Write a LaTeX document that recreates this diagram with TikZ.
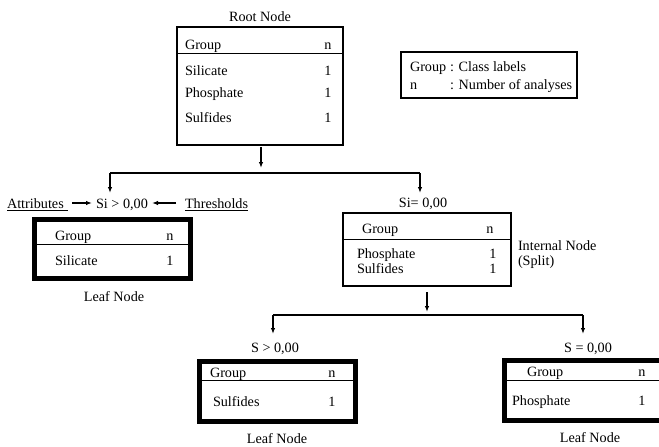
\documentclass[tikz,border=0pt]{standalone}
\usepackage{fontspec}
\setmainfont{Liberation Serif}
\usetikzlibrary{arrows.meta}
\begin{document}
\begin{tikzpicture}[x=1pt,y=-1pt,
  every node/.style={font=\fontsize{14.2}{17}\selectfont, inner sep=0pt, outer sep=0pt},
  tl/.style={anchor=base west},
  tc/.style={anchor=base},
  thinbox/.style={draw, line width=1.4pt},
  thickbox/.style={draw, line width=5pt},
  sepline/.style={line width=0.9pt},
  arr/.style={line width=1.3pt, -{Latex[length=6pt,width=4.5pt]}},
  branch/.style={line width=1.3pt},
  uline/.style={line width=0.9pt}]
\useasboundingbox (0,0) rectangle (659,447);
\clip (0,0) rectangle (659,447);
\fill[white] (0,0) rectangle (659,447);

% Root node
\node[tc] (roottitle) at (260,21) {Root Node};
\node[thinbox, minimum width=166pt, minimum height=118pt] (root) at (260,86) {};
\draw[sepline] (root.west |- 0,53) -- (root.east |- 0,53);
\node[tl] (rg) at (185,49) {Group};
\node[tc] (rn) at (328,49) {n};
\node[tl] (r1) at (185,75) {Silicate};
\node[tc] (r1n) at (328,75) {1};
\node[tl] (r2) at (185,97) {Phosphate};
\node[tc] (r2n) at (328,97) {1};
\node[tl] (r3) at (185,122) {Sulfides};
\node[tc] (r3n) at (328,122) {1};

% Legend
\node[thinbox, line width=1.2pt, minimum width=176pt, minimum height=46pt] (legend) at (489,75) {};
\node[tl] (lg) at (410,71) {Group};
\node[tl] (lgt) at (450,71) {: Class labels};
\node[tl] (ln) at (410,89) {n};
\node[tl] (lnt) at (450,89) {: Number of analyses};

% First split
\coordinate (a1) at (261,168);
\coordinate (b1l) at (110,173);
\coordinate (b1r) at (420,173);
\coordinate (b1le) at (110,193);
\coordinate (b1re) at (420,193);
\draw[arr] ([yshift=-2pt]root.south -| a1) -- (a1);
\draw[branch] (b1l) -- (b1r);
\draw[arr] (b1l) -- (b1le);
\draw[arr] (b1r) -- (b1re);

% Left condition
\node[tc] (si1) at (122,208) {Si > 0,00};
\node[tl] (attr) at (7,208) {Attributes};
\node[tl] (thr) at (185,208) {Thresholds};
\draw[uline] (attr.base west) ++(0,2.5) -- ++(61,0);
\draw[uline] (thr.base west) ++(0,2.5) -- ++(63,0);
\coordinate (aa1) at (72,203);
\coordinate (aa2) at (92,203);
\coordinate (ta1) at (176,203);
\coordinate (ta2) at (152,203);
\draw[arr] (aa1) -- (aa2);
\draw[arr] (ta1) -- (ta2);

% Leaf 1
\node[thickbox, minimum width=156pt, minimum height=59pt] (leaf1) at (112.5,249) {};
\draw[sepline] (leaf1.west |- 0,244) -- (leaf1.east |- 0,244);
\node[tl] (l1g) at (55,240) {Group};
\node[tc] (l1n) at (170,240) {n};
\node[tl] (l1a) at (55,265) {Silicate};
\node[tc] (l1an) at (170,265) {1};
\node[tc] (l1lab) at (114,301) {Leaf Node};

% Internal node
\node[tc] (si2) at (423,207) {Si= 0,00};
\node[thinbox, minimum width=168pt, minimum height=73pt] (inode) at (427,249.5) {};
\draw[sepline] (inode.west |- 0,239) -- (inode.east |- 0,239);
\node[tl] (ig) at (362,233) {Group};
\node[tc] (in) at (490,233) {n};
\node[tl] (i1) at (357,258) {Phosphate};
\node[tc] (i1n) at (493,258) {1};
\node[tl] (i2) at (357,273) {Sulfides};
\node[tc] (i2n) at (493,273) {1};
\node[tl] (ilab1) at (518,250) {Internal Node};
\node[tl] (ilab2) at (518,265) {(Split)};

% Second split
\coordinate (a2) at (427,312);
\coordinate (b2l) at (273,315);
\coordinate (b2r) at (583,315);
\coordinate (b2le) at (273,334);
\coordinate (b2re) at (583,334);
\draw[arr] ([yshift=-6pt]inode.south -| a2) -- (a2);
\draw[branch] (b2l) -- (b2r);
\draw[arr] (b2l) -- (b2le);
\draw[arr] (b2r) -- (b2re);

\node[tc] (s1) at (275,352) {S > 0,00};
\node[tc] (s2) at (588,352) {S = 0,00};

% Leaf 2
\node[thickbox, minimum width=156pt, minimum height=60pt] (leaf2) at (277.5,391.5) {};
\draw[sepline] (leaf2.west |- 0,380) -- (leaf2.east |- 0,380);
\node[tl] (l2g) at (210,377) {Group};
\node[tc] (l2n) at (332,377) {n};
\node[tl] (l2a) at (213,406) {Sulfides};
\node[tc] (l2an) at (332,406) {1};
\node[tc] (l2lab) at (277,443) {Leaf Node};

% Leaf 3
\node[thickbox, minimum width=170pt, minimum height=60pt] (leaf3) at (589.5,390.5) {};
\draw[sepline] (leaf3.west |- 0,380) -- (leaf3.east |- 0,380);
\node[tl] (l3g) at (527,376) {Group};
\node[tc] (l3n) at (642,376) {n};
\node[tl] (l3a) at (512,405) {Phosphate};
\node[tc] (l3an) at (642,405) {1};
\node[tc] (l3lab) at (590,442) {Leaf Node};
\end{tikzpicture}
\end{document}
